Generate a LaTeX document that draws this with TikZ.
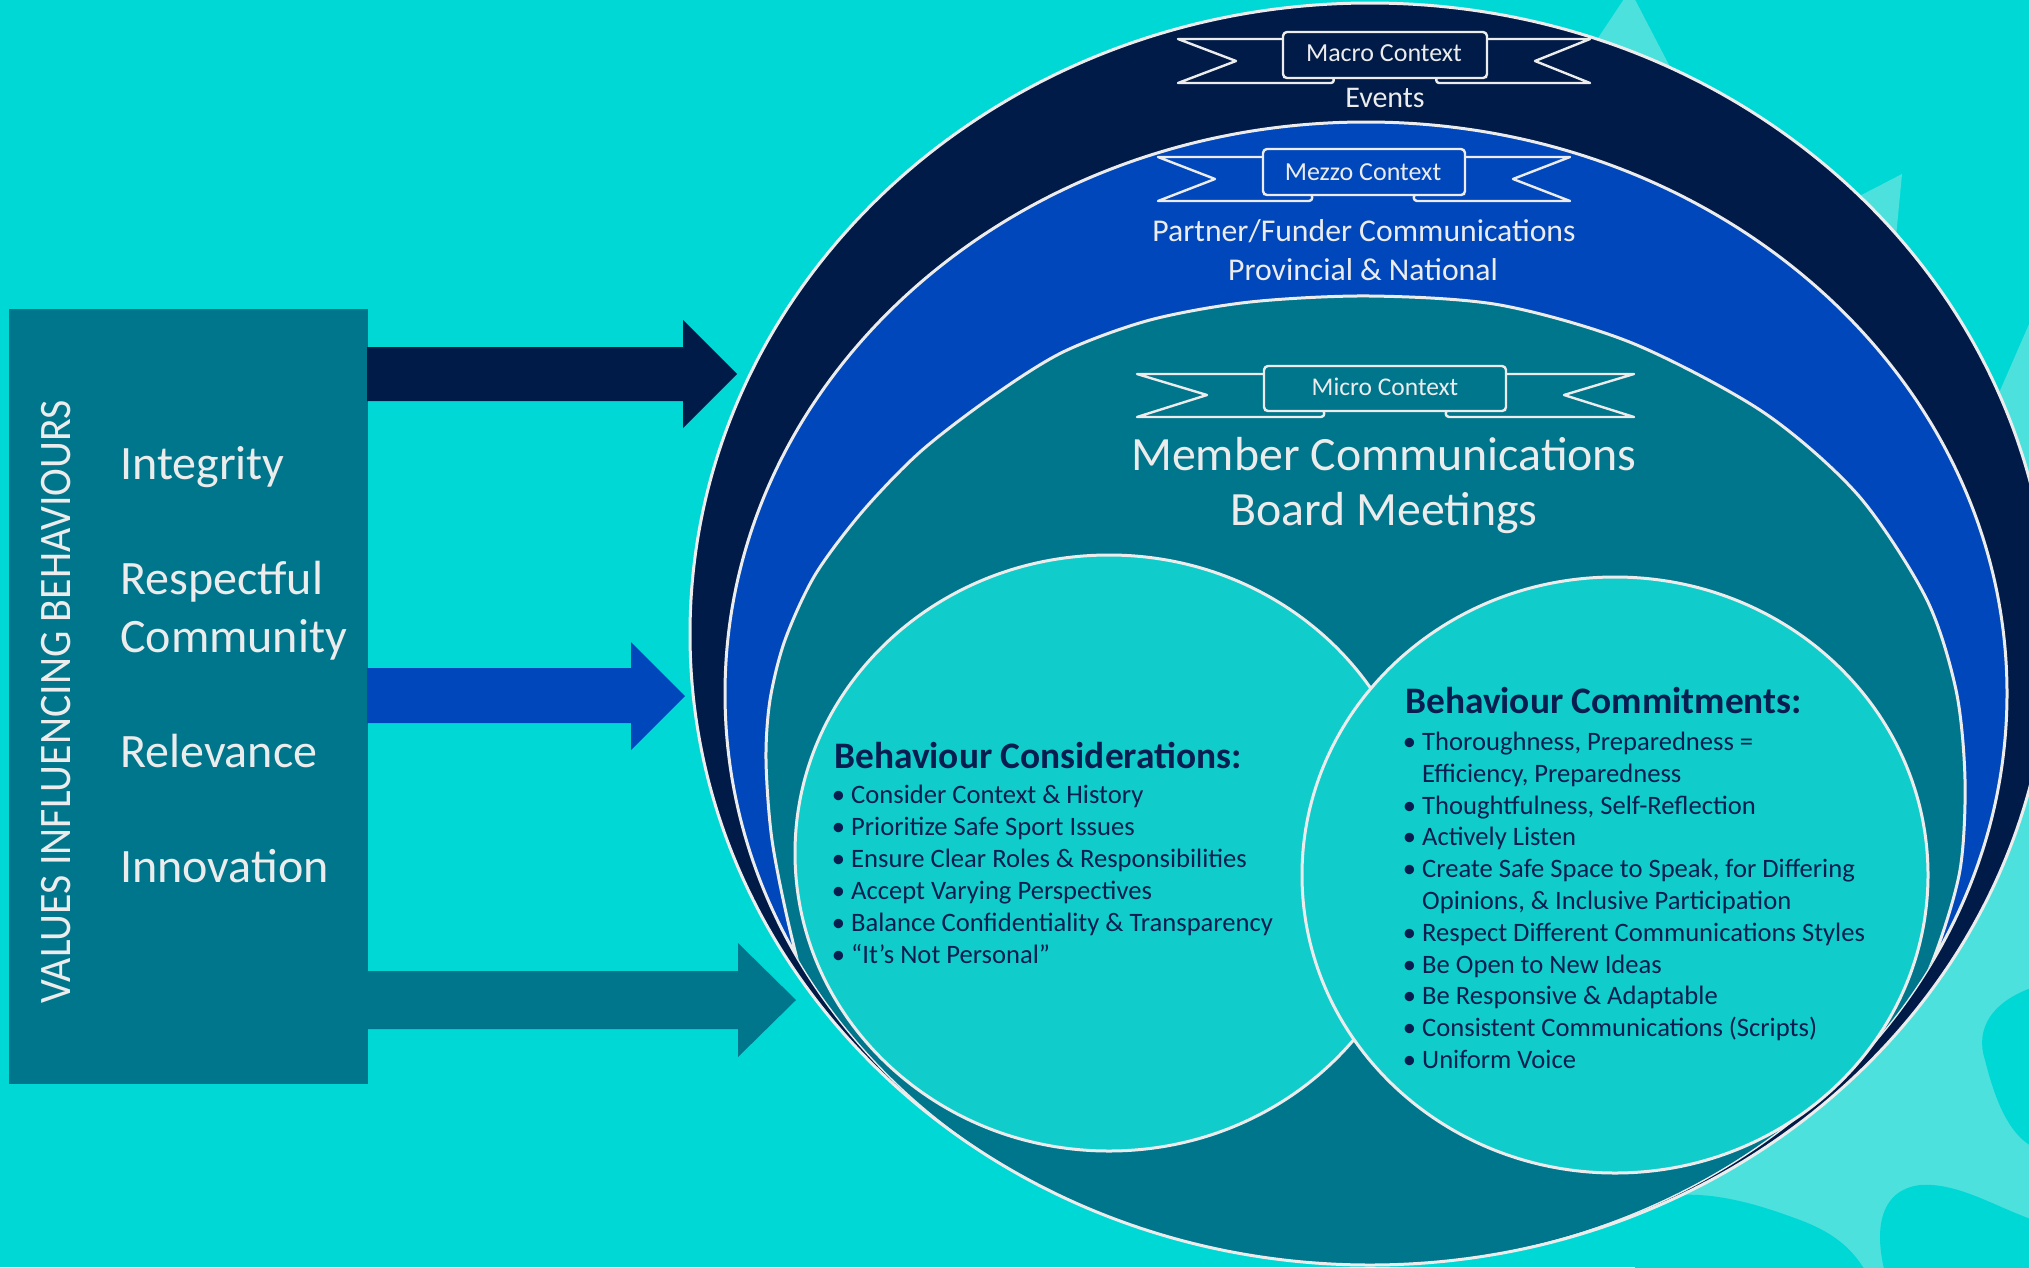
\documentclass[tikz,border=0pt]{standalone}
\usepackage{fontspec}
\setmainfont{Carlito}
\newfontfamily\condf{Carlito}[FakeStretch=0.93]
\definecolor{bgc}{RGB}{0,216,214}
\definecolor{lite}{RGB}{77,225,222}
\definecolor{navy}{RGB}{0,27,72}
\definecolor{royal}{RGB}{0,71,187}
\definecolor{tealc}{RGB}{0,118,140}
\definecolor{circ}{RGB}{16,205,203}
\definecolor{txt}{RGB}{8,30,80}
\definecolor{wht}{RGB}{236,236,236}
\begin{document}
\begin{tikzpicture}[x=1pt,y=-1pt,
  ring/.style={draw=wht, line width=3pt},
  ban/.style={draw=wht, line width=2.4pt, line join=round},
  wtxt/.style={text=wht, inner sep=0pt, anchor=base},
  valtxt/.style={text=wht, inner sep=0pt, anchor=base west, font=\fontsize{48}{48}\selectfont},
  itm/.style={text=txt, inner sep=0pt, anchor=base west, font=\fontsize{26.6}{32}\selectfont},
  hdg/.style={text=txt, inner sep=0pt, anchor=base west, font=\bfseries\fontsize{37.4}{40}\selectfont}]
\useasboundingbox (0,0) rectangle (2029,1267);
\clip (0,0) rectangle (2029,1267);
\fill[bgc] (0,0) rectangle (2029,1267);
% decorative background shapes
\fill[lite] (1560,95) -- (1630,-10) -- (1695,115) -- cycle;
\fill[lite] (1790,232) -- (1902,174) -- (1888,320) -- cycle;
\fill[lite] (2040,299) -- (1985,425) -- (1900,700) -- (1800,1050) -- (1683,1193) -- (1660,1300) -- (2040,1300) -- cycle;
\fill[bgc] (2040,985) .. controls (1990,1000) and (1975,1030) .. (1985,1060) .. controls (1995,1100) and (2010,1140) .. (2040,1150) -- cycle;
\fill[bgc] (1630,1290) -- (1650,1200) .. controls (1700,1185) and (1760,1205) .. (1800,1220) .. controls (1840,1235) and (1860,1255) .. (1875,1290) -- cycle;
\fill[bgc] (1890,1290) .. controls (1870,1230) and (1880,1190) .. (1920,1185) .. controls (1960,1182) and (2000,1210) .. (2040,1222) -- (2040,1290) -- cycle;
% left box
\fill[tealc] (9,309) rectangle (368,1084);
% arrows
\fill[navy] (367,347) -- (683,347) -- (683,320) -- (737,374) -- (683,428) -- (683,401) -- (367,401) -- cycle;
\fill[royal] (367,668) -- (631,668) -- (631,642) -- (685,696) -- (631,750) -- (631,723) -- (367,723) -- cycle;
\fill[tealc] (367,971) -- (738,971) -- (738,943) -- (796,1000) -- (738,1057) -- (738,1029) -- (367,1029) -- cycle;
% rings
\fill[navy] (1370,634) ellipse [x radius=680pt, y radius=631pt];
\begin{scope}
  \clip (1370,634) ellipse [x radius=680pt, y radius=631pt];
  \fill[royal] (1366,693.5) ellipse [x radius=641pt, y radius=571.5pt];
  \draw[ring] (1366,693.5) ellipse [x radius=641pt, y radius=571.5pt];
  \clip (1366,693.5) ellipse [x radius=641pt, y radius=571.5pt];
  \fill[tealc] plot[smooth cycle, tension=0.5] coordinates {(1370,296) (1500,305) (1632,343) (1763,412) (1858,495) (1926,598) (1956,690) (1965,780) (1960,870) (1935,955) (1900,1030) (1850,1110) (1760,1230) (1560,1330) (1365,1350) (1150,1330) (950,1230) (860,1110) (815,1020) (790,930) (772,840) (766,760) (770,700) (785,640) (815,575) (862,512) (920,452) (990,398) (1063,352) (1150,320) (1250,302)};
  \draw[ring] plot[smooth cycle, tension=0.5] coordinates {(1370,296) (1500,305) (1632,343) (1763,412) (1858,495) (1926,598) (1956,690) (1965,780) (1960,870) (1935,955) (1900,1030) (1850,1110) (1760,1230) (1560,1330) (1365,1350) (1150,1330) (950,1230) (860,1110) (815,1020) (790,930) (772,840) (766,760) (770,700) (785,640) (815,575) (862,512) (920,452) (990,398) (1063,352) (1150,320) (1250,302)};
\end{scope}
\draw[ring] (1370,634) ellipse [x radius=680pt, y radius=631pt];
% inner circles
\fill[circ] (1109,853) ellipse [x radius=314pt, y radius=298pt];
\draw[ring] (1109,853) ellipse [x radius=314pt, y radius=298pt];
\fill[circ] (1615,875) ellipse [x radius=313pt, y radius=298pt];
\draw[ring] (1615,875) ellipse [x radius=313pt, y radius=298pt];
% Macro banner
\filldraw[ban, fill=navy] (1283,39) -- (1178,39) -- (1236,61) -- (1178,83) -- (1331,83) to[out=0,in=0,looseness=1.6] (1331,77) -- (1283,77);
\filldraw[ban, fill=navy] (1487,39) -- (1590,39) -- (1535,61) -- (1590,83) -- (1439,83) to[out=180,in=180,looseness=1.6] (1439,77) -- (1487,77);
\filldraw[ban, fill=navy, rounded corners=4pt] (1283,32) rectangle (1487,78);
% Mezzo banner
\filldraw[ban, fill=royal] (1263,157) -- (1158,157) -- (1215,179) -- (1158,201) -- (1309,201) to[out=0,in=0,looseness=1.6] (1309,194) -- (1263,194);
\filldraw[ban, fill=royal] (1465,157) -- (1570,157) -- (1513,179) -- (1570,201) -- (1417,201) to[out=180,in=180,looseness=1.6] (1417,194) -- (1465,194);
\filldraw[ban, fill=royal, rounded corners=4pt] (1263,149) rectangle (1465,195);
% Micro banner
\filldraw[ban, fill=tealc] (1264,374) -- (1137,374) -- (1207,395) -- (1137,417) -- (1321,417) to[out=0,in=0,looseness=1.6] (1321,410) -- (1264,410);
\filldraw[ban, fill=tealc] (1506,374) -- (1634,374) -- (1564,395) -- (1634,417) -- (1449,417) to[out=180,in=180,looseness=1.6] (1449,410) -- (1506,410);
\filldraw[ban, fill=tealc, rounded corners=4pt] (1264,366) rectangle (1506,411);
% banner and ring texts
\node[wtxt, font=\fontsize{26}{30}\selectfont] (macro) at (1384,61.7) {Macro Context};
\node[wtxt, font=\fontsize{30}{30}\selectfont] (events) at (1385,107) {Events};
\node[wtxt, font=\fontsize{26}{30}\selectfont] (mezzo) at (1363,180) {Mezzo Context};
\node[wtxt, font=\fontsize{31.7}{36}\selectfont] (partner) at (1364,241) {Partner/Funder Communications};
\node[wtxt, font=\fontsize{31.7}{36}\selectfont] (prov) at (1363,280) {Provincial \& National};
\node[wtxt, font=\fontsize{25.5}{30}\selectfont] (micro) at (1385,395.7) {Micro Context};
\node[wtxt, font=\fontsize{47.8}{50}\selectfont] (member) at (1384,470) {Member Communications};
\node[wtxt, font=\fontsize{47.8}{50}\selectfont] (board) at (1384,525) {Board Meetings};
% left box texts
\node[text=wht, inner sep=0pt, rotate=90, anchor=base west, font=\condf\fontsize{45}{45}\selectfont] (vals) at (70,1004) {VALUES INFLUENCING BEHAVIOURS};
\node[valtxt] (v1) at (120,479) {Integrity};
\node[valtxt] (v2) at (120,594) {Respectful};
\node[valtxt] (v3) at (120,652) {Community};
\node[valtxt] (v4) at (120,767) {Relevance};
\node[valtxt] (v5) at (120,882) {Innovation};
% left circle texts
\node[hdg] (bch) at (834,768) {Behaviour Considerations:};
\node[itm] (c1) at (851,803) {\llap{\textbullet\hspace{6pt}}Consider Context \& History};
\node[itm] (c2) at (851,835) {\llap{\textbullet\hspace{6pt}}Prioritize Safe Sport Issues};
\node[itm] (c3) at (851,867) {\llap{\textbullet\hspace{6pt}}Ensure Clear Roles \& Responsibilities};
\node[itm] (c4) at (851,899) {\llap{\textbullet\hspace{6pt}}Accept Varying Perspectives};
\node[itm] (c5) at (851,931) {\llap{\textbullet\hspace{6pt}}Balance Confidentiality \& Transparency};
\node[itm] (c6) at (851,963) {\llap{\textbullet\hspace{6pt}}“It’s Not Personal”};
% right circle texts
\node[hdg] (bcm) at (1405,713) {Behaviour Commitments:};
\node[itm] (m1) at (1422,750) {\llap{\textbullet\hspace{6pt}}Thoroughness, Preparedness =};
\node[itm] (m2) at (1422,782) {Efficiency, Preparedness};
\node[itm] (m3) at (1422,814) {\llap{\textbullet\hspace{6pt}}Thoughtfulness, Self-Reflection};
\node[itm] (m4) at (1422,845) {\llap{\textbullet\hspace{6pt}}Actively Listen};
\node[itm] (m5) at (1422,877) {\llap{\textbullet\hspace{6pt}}Create Safe Space to Speak, for Differing};
\node[itm] (m6) at (1422,909) {Opinions, \& Inclusive Participation};
\node[itm] (m7) at (1422,941) {\llap{\textbullet\hspace{6pt}}Respect Different Communications Styles};
\node[itm] (m8) at (1422,973) {\llap{\textbullet\hspace{6pt}}Be Open to New Ideas};
\node[itm] (m9) at (1422,1004) {\llap{\textbullet\hspace{6pt}}Be Responsive \& Adaptable};
\node[itm] (m10) at (1422,1036) {\llap{\textbullet\hspace{6pt}}Consistent Communications (Scripts)};
\node[itm] (m11) at (1422,1068) {\llap{\textbullet\hspace{6pt}}Uniform Voice};
\end{tikzpicture}
\end{document}
